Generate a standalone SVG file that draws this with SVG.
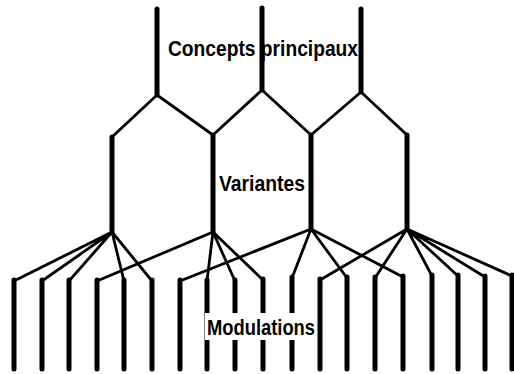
<svg xmlns="http://www.w3.org/2000/svg" width="514" height="374" viewBox="0 0 514 374">
<style>
.stem{stroke:#000;stroke-width:5;stroke-linecap:round;fill:none}
.branch{stroke:#000;stroke-width:2.8;stroke-linecap:round;stroke-linejoin:round;fill:none}
.lbl{font-family:"Liberation Sans","DejaVu Sans",sans-serif;font-weight:bold;font-size:22px;fill:#000}
</style>
<rect width="514" height="374" fill="#fff"/>
<g id="concepts">
<line class="stem" x1="157" y1="9" x2="157" y2="95"/>
<line class="stem" x1="262" y1="8" x2="262" y2="90"/>
<line class="stem" x1="361" y1="9" x2="361" y2="92"/>
<text class="lbl" x="168" y="56" textLength="190" lengthAdjust="spacingAndGlyphs">Concepts principaux</text>
</g>
<g id="variantes">
<line class="stem" x1="112" y1="137" x2="112" y2="232"/>
<line class="stem" x1="213" y1="135" x2="213" y2="232"/>
<line class="stem" x1="311" y1="135" x2="311" y2="229"/>
<line class="stem" x1="407" y1="135" x2="407" y2="229"/>
<text class="lbl" x="219" y="191" textLength="86" lengthAdjust="spacingAndGlyphs">Variantes</text>
</g>
<g id="connectors">
<path class="branch" d="M157 95L112 137M157 95L213 135M262 90L213 135M262 90L311 135M361 92L311 135M361 92L407 135"/>
<path class="branch" d="M112 232L14 281M112 232L42 281M112 232L69 281M112 232L124 281M112 232L152 281"/>
<path class="branch" d="M213 232L97 281M213 232L207 281M213 232L235 281M213 232L263 280"/>
<path class="branch" d="M311 229L180 281M311 229L292 278M311 229L347 278M311 229L403 277"/>
<path class="branch" d="M407 229L320 280M407 229L375 278M407 229L432 276M407 229L458 276M407 229L485 277M407 229L512 276"/>
</g>
<g id="modulations">
<path class="stem" d="M14 280V369M42 280V369M69 280V369M97 280V369M124 280V369M152 280V369M180 280V369M207 280V369M235 280V369M263 279V369M292 277V369M320 279V369M347 277V369M375 277V369M403 276V369M432 275V369M458 275V369M485 276V369M512 275V369"/>
<rect x="205" y="313" width="111" height="27" fill="#fff"/>
<text class="lbl" x="207" y="335" textLength="108" lengthAdjust="spacingAndGlyphs">Modulations</text>
</g>
</svg>
